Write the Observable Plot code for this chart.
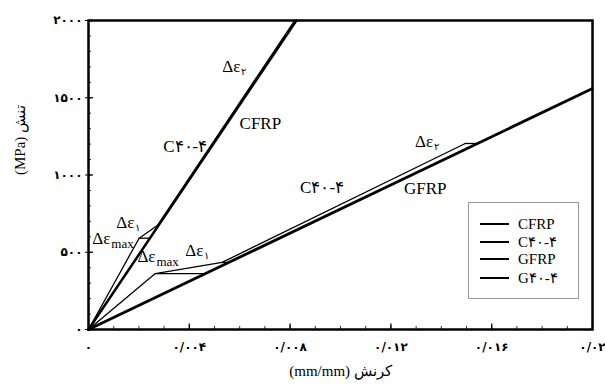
<!DOCTYPE html>
<html>
<head>
<meta charset="utf-8">
<script src="https://cdn.jsdelivr.net/npm/d3@7"></script>
<script src="https://cdn.jsdelivr.net/npm/@observablehq/plot@0.6"></script>
<style>
  body { margin: 0; background: #fff; }
  #wrap { position: relative; width: 605px; height: 390px; }
  #legend { position: absolute; left: 468px; top: 202px; width: 109px; height: 95px;
    border: 1px solid #999; background: #fff; font-family: "Liberation Serif", serif; font-size: 15px; }
  .row { position: absolute; left: 11px; height: 18px; display: flex; align-items: center; }
  .sw { width: 29px; background: #000; margin-right: 9px; }
</style>
</head>
<body>
<div id="wrap"></div>
<script>
// ---- data ----
const strainCFRP = [0, 0.00825];
const stressCFRP = [0, 2000];
const strainC404 = [0, 0.00201, 0.00273, 0.00818];
const stressC404 = [0, 591, 673, 2000];
const strainGFRP = [0, 0.02];
const stressGFRP = [0, 1560];
const strainG404 = [0, 0.00265, 0.0053, 0.01495];
const stressG404 = [0, 362, 434, 1204];

// Δε brackets (horizontal gaps between curves)
const bracketStress = [591, 673, 362, 434, 1204];
const bracketFrom = [0.00201, 0.00273, 0.00265, 0.0053, 0.01495];
const bracketTo = [0.00244, 0.00278, 0.00464, 0.00556, 0.01544];

// Δε annotations
const deltaSub = ["۱", "max", "max", "۱", "۲", "۲"];
const deltaStrain = [0.00110, 0.00015, 0.00194, 0.00384, 0.00531, 0.01296];
const deltaStress = [693, 589, 472, 511, 1702, 1217];

// curve labels
const curveLabels = ["C۴۰-۴", "CFRP", "C۴۰-۴", "GFRP"];
const curveLabelStrain = [0.00384, 0.00682, 0.00927, 0.01336];
const curveLabelStress = [1185, 1333, 919, 913];

// axes
const xTicks = [0, 0.004, 0.008, 0.012, 0.016, 0.02];
const xTickLabels = ["۰", "۰/۰۰۴", "۰/۰۰۸", "۰/۰۱۲", "۰/۰۱۶", "۰/۰۲"];
const yTicks = [0, 500, 1000, 1500, 2000];
const yTickLabels = ["۰", "۵۰۰", "۱۰۰۰", "۱۵۰۰", "۲۰۰۰"];
const xMinor = d3.range(0, 21).map(i => i * 0.001);
const yMinor = d3.range(0, 21).map(i => i * 100);
const xLabel = "(mm/mm) کرنش";
const yLabel = "(MPa) تنش";

const series = [
  {name: "CFRP", xs: strainCFRP, ys: stressCFRP, w: 2.5},
  {name: "C40-4", xs: strainC404, ys: stressC404, w: 1.3},
  {name: "GFRP", xs: strainGFRP, ys: stressGFRP, w: 2.8},
  {name: "G40-4", xs: strainG404, ys: stressG404, w: 1.3}
];
const lineData = series.flatMap(s => s.xs.map((x, i) => ({name: s.name, x, y: s.ys[i], w: s.w})));
const brackets = bracketStress.map((y, i) => ({y, x1: bracketFrom[i], x2: bracketTo[i]}));
const deltas = deltaSub.map((s, i) => ({sub: s, x: deltaStrain[i], y: deltaStress[i]}));
const labels = curveLabels.map((t, i) => ({t, x: curveLabelStrain[i], y: curveLabelStress[i]}));

const serif = "Liberation Serif, serif";
const marks = [
  // minor/major ticks (inward)
  Plot.ruleX(xMinor, {x: d => d, y1: 0, y2: 20, stroke: "#333", strokeWidth: 1}),
  Plot.ruleX(xTicks, {x: d => d, y1: 0, y2: 36, stroke: "#000", strokeWidth: 1.3}),
  Plot.ruleY(yMinor, {y: d => d, x1: 0, x2: 0.00012, stroke: "#333", strokeWidth: 1}),
  Plot.ruleY(yTicks, {y: d => d, x1: 0, x2: 0.0002, stroke: "#000", strokeWidth: 1.3}),
  Plot.axisX(xTicks, {anchor: "bottom", tickSize: 0, tickPadding: 13, label: null,
    tickFormat: d => xTickLabels[xTicks.indexOf(d)], fontSize: 12, fontWeight: "bold", fontFamily: "DejaVu Sans"}),
  Plot.axisY(yTicks, {anchor: "left", tickSize: 3, tickPadding: 3, label: null,
    tickFormat: d => yTickLabels[yTicks.indexOf(d)], fontSize: 12, fontWeight: "bold", fontFamily: "DejaVu Sans"}),
  // curves
  Plot.line(lineData, {x: "x", y: "y", z: "name", stroke: "#000", strokeWidth: "w", strokeLinejoin: "miter"}),
  Plot.ruleY(brackets, {y: "y", x1: "x1", x2: "x2", stroke: "#000", strokeWidth: 1.3}),
  // annotations
  Plot.text(deltas, {x: "x", y: "y", text: d => "Δε", textAnchor: "start", fontSize: 17, fontFamily: serif}),
  Plot.text(deltas, {x: "x", y: "y", text: "sub", textAnchor: "start", dx: 19, dy: 5,
    fontSize: d => d.sub === "max" ? 13 : 10, fontFamily: serif}),
  Plot.text(labels, {x: "x", y: "y", text: "t", fontSize: 17, fontFamily: serif}),
  // axis titles
  Plot.text([xLabel], {frameAnchor: "bottom", dy: 46, fontSize: 15, fontFamily: serif}),
  Plot.text([yLabel], {frameAnchor: "left", dx: -68, rotate: -90, fontSize: 15, fontFamily: serif}),
  Plot.frame({stroke: "#000", strokeWidth: 2.5})
];

const chart = Plot.plot({
  width: 605, height: 390,
  marginLeft: 88, marginRight: 13, marginTop: 20, marginBottom: 61,
  x: {domain: [0, 0.02]},
  y: {domain: [0, 2000]},
  marks
});
const wrap = document.getElementById("wrap");
wrap.appendChild(chart);

// legend
const legendItems = ["CFRP", "C۴۰-۴", "GFRP", "G۴۰-۴"];
const legendWidths = [1.6, 1.2, 2.8, 1.2];
const legendTops = [12, 30, 47, 66];
const lg = document.createElement("div");
lg.id = "legend";
legendItems.forEach((t, i) => {
  const r = document.createElement("div");
  r.className = "row";
  r.style.top = legendTops[i] + "px";
  const sw = document.createElement("span");
  sw.className = "sw";
  sw.style.height = legendWidths[i] + "px";
  const tx = document.createElement("span");
  tx.textContent = t;
  r.appendChild(sw); r.appendChild(tx);
  lg.appendChild(r);
});
wrap.appendChild(lg);
</script>
</body>
</html>
